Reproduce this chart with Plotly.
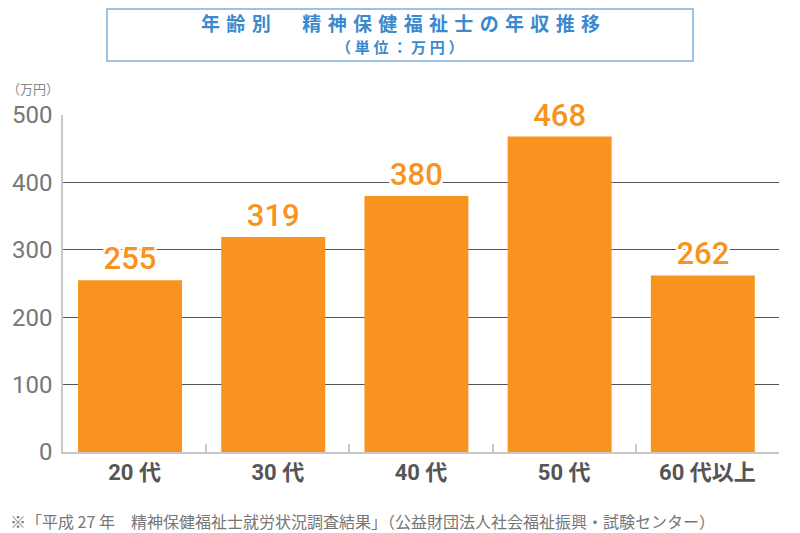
import plotly.graph_objects as go

ORANGE = "#F7931E"
BLUE = "#3A8AD0"
BOX = "#9CC3E5"
GRID = "#555555"
AXIS = "#C8C8C8"

categories = ["20 代", "30 代", "40 代", "50 代", "60 代以上"]
incomes = [255, 319, 380, 468, 262]
y_ticks = [0, 100, 200, 300, 400, 500]

TITLE = "年齢別　精神保健福祉士の年収推移"
SUBTITLE = "（単位：万円）"
UNIT = "（万円）"
SOURCE = "※「平成 27 年　精神保健福祉士就労状況調査結果」（公益財団法人社会福祉振興・試験センター）"


def spaced(text, gap="\u2005"):
    # the reference uses wide letter spacing in the heading
    return gap.join(text)


NUM = "Roboto, Noto Sans CJK JP, sans-serif"
CJK = "Noto Sans CJK JP, sans-serif"
OUTLINE = ("2px 0 0 #fff, -2px 0 0 #fff, 0 2px 0 #fff, 0 -2px 0 #fff, "
           "2px 2px 0 #fff, -2px -2px 0 #fff, 2px -2px 0 #fff, -2px 2px 0 #fff")

fig = go.Figure(
    go.Bar(
        x=categories,
        y=incomes,
        width=0.726,
        offset=-0.395,
        marker=dict(color=ORANGE, line=dict(width=0)),
        text=[str(v) for v in incomes],
        textposition="outside",
        cliponaxis=False,
        textfont=dict(family="Roboto, sans-serif", size=31, color=ORANGE,
                      weight=500, shadow=OUTLINE),
        showlegend=False,
    )
)

# the page body adds an 8px margin, so the figure is shifted by 8px in the window
fig.update_layout(
    width=792,
    height=525,
    margin=dict(l=55, r=21, t=107, b=81, autoexpand=False),
    paper_bgcolor="white",
    plot_bgcolor="white",
    xaxis=dict(
        type="category",
        automargin=False,
        tickson="boundaries",
        ticks="inside",
        ticklen=8,
        tickcolor=AXIS,
        tickwidth=1.5,
        showline=True,
        linecolor=AXIS,
        linewidth=1.5,
        showgrid=False,
        tickfont=dict(family=NUM, size=22, color="#555555", weight="bold"),
    ),
    yaxis=dict(
        range=[0, 500],
        automargin=False,
        tickvals=y_ticks,
        showgrid=True,
        gridcolor=GRID,
        gridwidth=1,
        zeroline=False,
        showline=True,
        linecolor=AXIS,
        linewidth=1.5,
        ticks="",
        ticklabelstandoff=4,
        tickfont=dict(family=NUM, size=24, color="#777777"),
    ),
    shapes=[
        dict(
            type="rect", xref="paper", yref="paper",
            x0=0.0615, x1=0.8799, y0=1.1602, y1=1.3145,
            line=dict(color=BOX, width=2), fillcolor="white", layer="below",
        )
    ],
    annotations=[
        dict(
            text=spaced(TITLE, "\u2004"), xref="paper", yref="paper", x=0.4707, y=1.273,
            xanchor="center", yanchor="middle", showarrow=False,
            font=dict(family=CJK, size=19, color=BLUE, weight="bold"),
        ),
        dict(
            text=spaced(SUBTITLE), xref="paper", yref="paper", x=0.4707, y=1.2018,
            xanchor="center", yanchor="middle", showarrow=False,
            font=dict(family=CJK, size=15, color=BLUE, weight="bold"),
        ),
        dict(
            text=UNIT, xref="paper", yref="paper", x=-0.0419, y=1.08,
            xanchor="center", yanchor="middle", showarrow=False,
            font=dict(family=CJK, size=13, color="#888888"),
        ),
        dict(
            text=SOURCE, xref="paper", yref="paper", x=-0.0768, y=-0.2047,
            xanchor="left", yanchor="middle", showarrow=False,
            font=dict(family=CJK, size=16, color="#777777"),
        ),
    ],
)

fig.write_html("out.html")
